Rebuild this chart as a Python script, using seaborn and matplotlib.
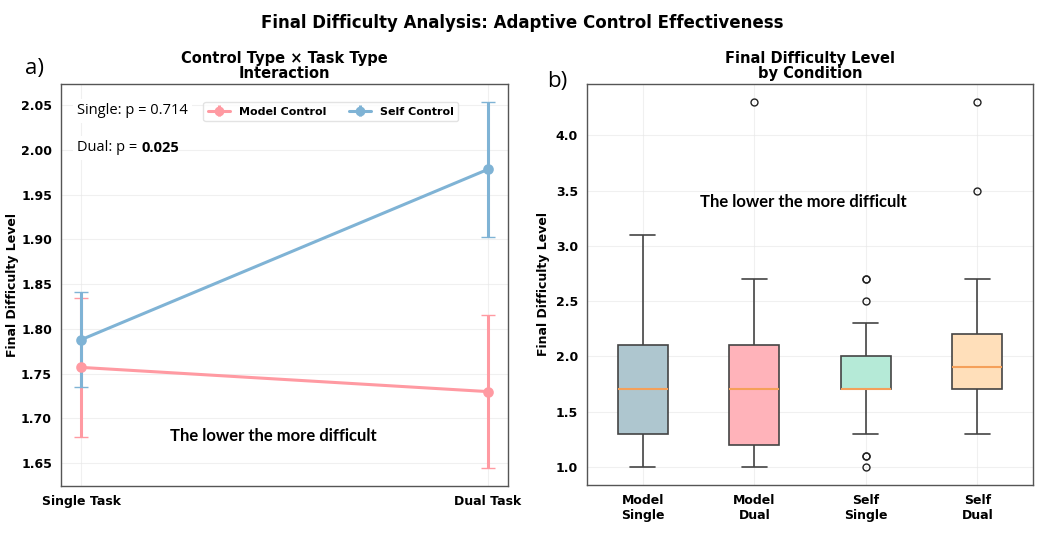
import numpy as np
import pandas as pd
import matplotlib
matplotlib.use("Agg")
import matplotlib.pyplot as plt
import seaborn as sns

# ---------------- data ----------------
tasks = ["Single Task", "Dual Task"]
controls = ["Model Control", "Self Control"]
model_means = [1.757, 1.730]
model_err = [0.078, 0.085]
self_means = [1.788, 1.978]
self_err = [0.053, 0.075]
p_single = "0.714"
p_dual = "0.025"

box_labels = ["Model\nSingle", "Model\nDual", "Self\nSingle", "Self\nDual"]
model_single = [1.0, 1.1, 1.2, 1.3, 1.3, 1.5, 1.7, 1.7, 1.9, 2.1, 2.1, 2.4, 2.7, 3.1]
model_dual = [1.0, 1.1, 1.2, 1.2, 1.2, 1.4, 1.6, 1.7, 1.8, 2.0, 2.1, 2.1, 2.1, 2.7, 4.3]
self_single = [1.0, 1.1, 1.1, 1.3, 1.7, 1.7, 1.7, 1.7, 1.7, 1.7, 1.8, 1.9, 2.0, 2.0, 2.0,
               2.3, 2.5, 2.7, 2.7]
self_dual = [1.3, 1.5, 1.7, 1.7, 1.7, 1.8, 1.9, 1.9, 2.0, 2.1, 2.2, 2.2, 2.7, 3.5, 4.3]

line_colors = ["#FF9AA2", "#7FB3D5"]
box_colors = ["#AEC6CF", "#FFB3BA", "#B5EAD7", "#FFDFBA"]

# ---------------- style ----------------
sns.set_style("whitegrid")
plt.rcParams["font.family"] = ["DejaVu Sans"]
plt.rcParams["text.color"] = "black"
plt.rcParams["axes.labelcolor"] = "black"
plt.rcParams["xtick.color"] = "black"
plt.rcParams["ytick.color"] = "black"
plt.rcParams["axes.edgecolor"] = "#555555"
plt.rcParams["axes.linewidth"] = 1.0
plt.rcParams["grid.color"] = "#e6e6e6"
plt.rcParams["grid.linewidth"] = 0.8

fig = plt.figure(figsize=(10.44, 5.34), dpi=100)
ax1 = fig.add_axes([0.0584, 0.0899, 0.4282, 0.7528])
ax2 = fig.add_axes([0.5623, 0.0918, 0.4272, 0.7510])

# ---------------- left: interaction ----------------
df_line = pd.DataFrame({
    "task": tasks * 2,
    "control": [controls[0]] * 2 + [controls[1]] * 2,
    "mean": model_means + self_means,
})
sns.pointplot(data=df_line, x="task", y="mean", hue="control", order=tasks,
              hue_order=controls, palette=line_colors, errorbar=None, dodge=False,
              markers="o", legend=False, ax=ax1, linewidth=2.2, markersize=6)

handles = []
for i, (means, errs) in enumerate([(model_means, model_err), (self_means, self_err)]):
    ax1.errorbar([0, 1], means, yerr=errs, fmt="none", ecolor=line_colors[i],
                 elinewidth=2.2, capsize=5, capthick=1.0, zorder=1)
    h = ax1.errorbar([], [], yerr=[], fmt="o-", color=line_colors[i], lw=2.2, ms=6,
                     elinewidth=2.2, capsize=5, capthick=1.0, label=controls[i])
    handles.append(h)

ax1.set_xlim(-0.05, 1.05)
ax1.set_yticks(np.arange(1.65, 2.051, 0.05))
ax1.set_ylim(1.6246, 2.0734)
ax1.set_xlabel("")
ax1.set_ylabel("Final Difficulty Level", fontsize=9, fontweight="bold")
ax1.yaxis.set_label_coords(-0.094, 0.5)
ax1.set_title("Control Type × Task Type\nInteraction", fontsize=10.5, fontweight="bold",
              pad=4, linespacing=1.0)
for lab in ax1.get_xticklabels() + ax1.get_yticklabels():
    lab.set_fontweight("bold")
    lab.set_fontsize(9)
ax1.tick_params(length=3, pad=3.5, color="#555555")
ax1.grid(True, alpha=0.6)
for s in ax1.spines.values():
    s.set_visible(True)
    s.set_color("#555555")

leg = ax1.legend(handles=handles, labels=controls, loc="upper right",
                 bbox_to_anchor=(0.888, 0.955), ncol=2, borderaxespad=0,
                 prop={"weight": "bold", "size": 8}, frameon=True,
                 handlelength=2.0, columnspacing=2.0)
leg.get_frame().set_edgecolor("#dddddd")

ann_font = ["Open Sans", "DejaVu Sans"]
ax1.text(0.036, 0.933, f"Single: p = {p_single}", transform=ax1.transAxes,
         ha="left", va="center", fontsize=10.5, family=ann_font,
         bbox=dict(facecolor="white", edgecolor="none", pad=3))
t1 = ax1.text(0.036, 0.841, "Dual: p = ", transform=ax1.transAxes,
              ha="left", va="center", fontsize=10.5, family=ann_font,
              bbox=dict(facecolor="white", edgecolor="none", pad=3))
ax1.annotate(p_dual, xy=(1, 0.5), xycoords=t1, ha="left", va="center",
             fontsize=10.5, fontweight="bold", family=ann_font)
ax1.text(0.472, 1.680, "The lower the more difficult", ha="center", va="center",
         fontsize=12, fontweight="bold", family=["Lato", "DejaVu Sans"])

# ---------------- right: boxplot ----------------
df_box = pd.DataFrame({
    "cond": ([box_labels[0]] * len(model_single) + [box_labels[1]] * len(model_dual)
             + [box_labels[2]] * len(self_single) + [box_labels[3]] * len(self_dual)),
    "value": model_single + model_dual + self_single + self_dual,
})
sns.boxplot(data=df_box, x="cond", y="value", hue="cond", order=box_labels,
            hue_order=box_labels, palette=box_colors, saturation=1, legend=False,
            width=0.45, linewidth=1.2, linecolor="#444444", ax=ax2,
            medianprops={"color": "#F5A05A", "linewidth": 1.5},
            flierprops={"marker": "o", "markerfacecolor": "none",
                        "markeredgecolor": "#222222", "markersize": 5})
ax2.set_ylim(0.835, 4.465)
ax2.set_yticks([1.0, 1.5, 2.0, 2.5, 3.0, 3.5, 4.0])
ax2.set_xlabel("")
ax2.set_ylabel("Final Difficulty Level", fontsize=9, fontweight="bold")
ax2.yaxis.set_label_coords(-0.083, 0.5)
ax2.set_title("Final Difficulty Level\nby Condition", fontsize=10.5, fontweight="bold",
              pad=4, linespacing=1.0)
for lab in ax2.get_xticklabels() + ax2.get_yticklabels():
    lab.set_fontweight("bold")
    lab.set_fontsize(9)
ax2.tick_params(length=3, pad=3.5, color="#555555")
ax2.grid(True, alpha=0.6)
ax2.set_axisbelow(True)
for s in ax2.spines.values():
    s.set_visible(True)
    s.set_color("#555555")
ax2.text(1.44, 3.40, "The lower the more difficult", ha="center", va="center",
         fontsize=12, fontweight="bold", family=["Lato", "DejaVu Sans"])

# ---------------- figure text ----------------
fig.suptitle("Final Difficulty Analysis: Adaptive Control Effectiveness",
             fontsize=12, fontweight="bold", y=0.973)
fig.text(0.024, 0.872, "a)", fontsize=16, family=ann_font, va="center")
fig.text(0.524, 0.848, "b)", fontsize=16, family=ann_font, va="center")

fig.savefig("out.png", dpi=100)
